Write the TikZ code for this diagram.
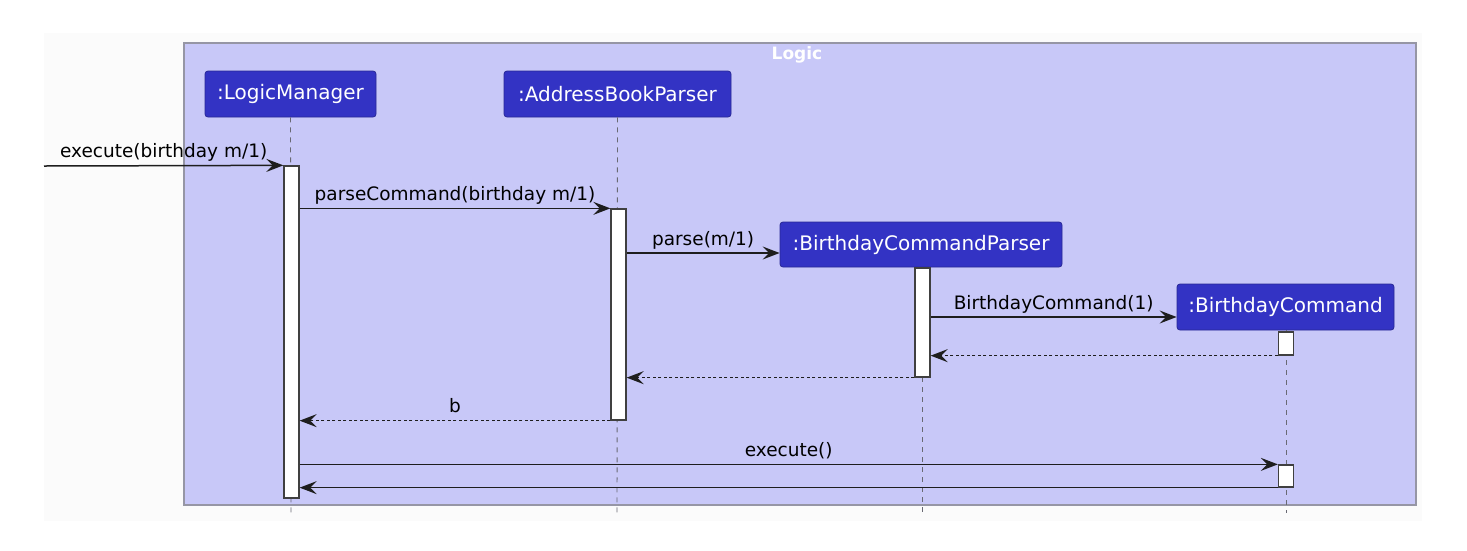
\documentclass[tikz,border=0pt]{standalone}
\usepackage{fontspec}
\setmainfont{DejaVu Sans}
\usetikzlibrary{arrows.meta}
\definecolor{pageBg}{RGB}{251,251,251}
\definecolor{frameBg}{RGB}{200,200,248}
\definecolor{frameLine}{RGB}{150,150,165}
\definecolor{partBg}{RGB}{51,51,196}
\definecolor{partLine}{RGB}{40,40,150}
\definecolor{lifeLine}{RGB}{105,105,115}
\definecolor{msgLine}{RGB}{30,30,30}
\begin{document}
\begin{tikzpicture}[x=1pt,y=-1pt,
  part/.style={draw=partLine, line width=0.8pt, fill=partBg, rounded corners=3pt,
    text=white, font=\fontsize{20}{24}\selectfont, minimum height=46pt, inner sep=0pt},
  actbar/.style={draw=msgLine!85, line width=1.3pt, fill=white, minimum width=15pt, inner sep=0pt},
  life/.style={draw=lifeLine, line width=0.9pt, dash pattern=on 5pt off 5pt},
  msg/.style={draw=msgLine, line width=1.5pt, -{Stealth[length=17pt,width=13pt,inset=6.5pt]}},
  ret/.style={msg, dash pattern=on 3pt off 2.5pt},
  lbl/.style={font=\fontsize{18.5}{22}\selectfont, text=black, inner sep=0pt, anchor=base}
]
\useasboundingbox (0,0) rectangle (1467,550);
\fill[white] (0,0) rectangle (1467,550);
\fill[pageBg] (44,33) rectangle (1422,521);
% frame
\node[draw=frameLine, line width=1.3pt, fill=frameBg, minimum width=1232pt, minimum height=462pt, inner sep=0pt] (frame) at (800,274) {};
\node[text=white, font=\fontsize{17}{20}\selectfont\bfseries] (title) at (797,55) {Logic};
% participants
\node[part, minimum width=171pt] (lm) at (290.5,94) {:LogicManager};
\node[part, minimum width=227pt] (abp) at (617.5,94) {:AddressBookParser};
\node[part, minimum width=282pt, minimum height=45pt] (bcp) at (921,244.5) {:BirthdayCommandParser};
\node[part, minimum width=217pt] (bc) at (1285.5,307) {:BirthdayCommand};
% lifeline ends
\coordinate (lmEnd) at (291,513);
\coordinate (abpEnd) at (617,513);
\coordinate (bcpEnd) at (922,513);
\coordinate (bcEnd) at (1286,513);
\draw[life] (lm.south) -- (lmEnd);
\draw[life] (abp.south) -- (abpEnd);
\draw[life] (bcp.south -| bcpEnd) -- (bcpEnd);
\draw[life] (bc.south -| bcEnd) -- (bcEnd);
% activation bars
\node[actbar, minimum height=332pt] (lmBar) at (291.5,332) {};
\node[actbar, minimum height=211pt] (abpBar) at (618.5,314.5) {};
\node[actbar, minimum height=109pt] (bcpBar) at (922.5,322.5) {};
\node[actbar, minimum height=23pt] (bcBarA) at (1286,343.5) {};
\node[actbar, minimum height=22pt] (bcBarB) at (1286,476) {};
% messages
\coordinate (start) at (44,166);
\draw[msg] (start) -- (lmBar.north west) node[lbl, midway, yshift=8pt] {execute(birthday m/1)};
\draw[msg] (lmBar.east |- abpBar.north) -- (abpBar.north west) node[lbl, midway, yshift=8pt] {parseCommand(birthday m/1)};
\draw[msg] (abpBar.east |- 0,253) -- ([yshift=-8.5pt]bcp.west) node[lbl, midway, yshift=8pt] {parse(m/1)};
\draw[msg] (bcpBar.east |- 0,317) -- ([yshift=-10pt]bc.west) node[lbl, midway, yshift=8pt] {BirthdayCommand(1)};
\draw[ret] (bcBarA.south west) -- (bcpBar.east |- bcBarA.south);
\draw[ret] (bcpBar.south west) -- (abpBar.east |- bcpBar.south);
\draw[ret] (abpBar.south west) -- (lmBar.east |- abpBar.south) node[lbl, midway, yshift=8pt] {b};
\draw[msg] (lmBar.east |- bcBarB.north) -- (bcBarB.north west) node[lbl, midway, yshift=8pt] {execute()};
\draw[msg] (bcBarB.south west) -- (lmBar.east |- bcBarB.south);
\end{tikzpicture}
\end{document}
